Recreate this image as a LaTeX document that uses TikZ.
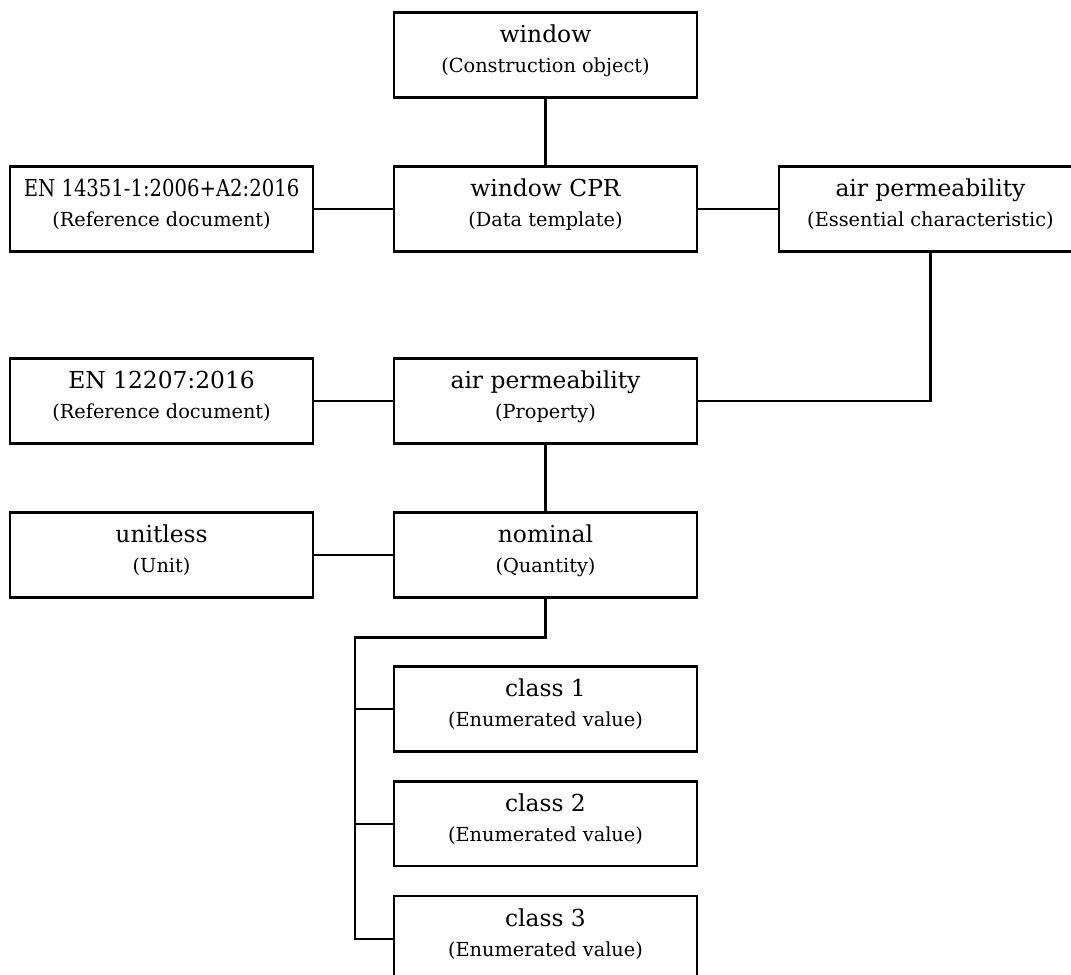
\documentclass[tikz,border=0pt]{standalone}
\usepackage{fontspec}
\setmainfont{DejaVu Serif}
\usepackage{graphicx}
\usepackage{tikz}
\usetikzlibrary{positioning,calc}

\newcommand{\subline}{\fontsize{11}{17}\selectfont}
\newcommand{\boxtext}[2]{#1\\{\subline #2\rule[-7pt]{0pt}{7pt}}}

\begin{document}
\begin{tikzpicture}[
    x=0.02cm, y=-0.02cm,
    node distance=1.38cm and 1.62cm,
    box/.style={rectangle, draw, line width=1.3pt, outer sep=0pt, minimum width=6.06cm, minimum height=1.7cm, align=center, inner sep=0pt, font=\fontsize{13.3}{17}\selectfont},
    link/.style={line width=1.3pt}
]
\useasboundingbox (0,0) rectangle (1071,974);

% Top object
\node[box] (window) at (545.5,55) {\boxtext{window}{(Construction object)}};

% Data template row
\node[box, below=of window] (cpr) {\boxtext{window CPR}{(Data template)}};
\node[box, left=of cpr] (en14351) {\boxtext{\scalebox{0.84}[1]{EN 14351-1:2006+A2:2016}}{(Reference document)}};
\node[box, right=1.64cm of cpr] (ess) {\boxtext{air permeability}{(Essential characteristic)}};

% Property row
\node[box, below=2.14cm of cpr] (prop) {\boxtext{air permeability}{(Property)}};
\node[box, left=of prop] (en12207) {\boxtext{EN 12207:2016}{(Reference document)}};

% Quantity row
\node[box, below=of prop] (nominal) {\boxtext{nominal}{(Quantity)}};
\node[box, left=of nominal] (unitless) {\boxtext{unitless}{(Unit)}};

% Enumerated values
\node[box, below=1.38cm of nominal] (class1) {\boxtext{class 1}{(Enumerated value)}};
\node[box, below=0.6cm of class1] (class2) {\boxtext{class 2}{(Enumerated value)}};
\node[box, below=0.6cm of class2] (class3) {\boxtext{class 3}{(Enumerated value)}};

% Links
\draw[link] (window) -- (cpr);
\draw[link] (en14351) -- (cpr);
\draw[link] (cpr) -- (ess);
\draw[link] (ess.south) |- (prop.east);
\draw[link] (en12207) -- (prop);
\draw[link] (prop) -- (nominal);
\draw[link] (unitless) -- (nominal);

% Value bus
\coordinate (split) at ($(nominal.south)+(0,-0.8cm)$);
\coordinate (bus) at ($(class1.west)+(-0.78cm,0)$);
\draw[link] (nominal.south) -- (split) -| (bus |- class3.west) -- (class3.west);
\foreach \val in {class1,class2}
    \draw[link] (bus |- \val.west) -- (\val.west);

\end{tikzpicture}
\end{document}
